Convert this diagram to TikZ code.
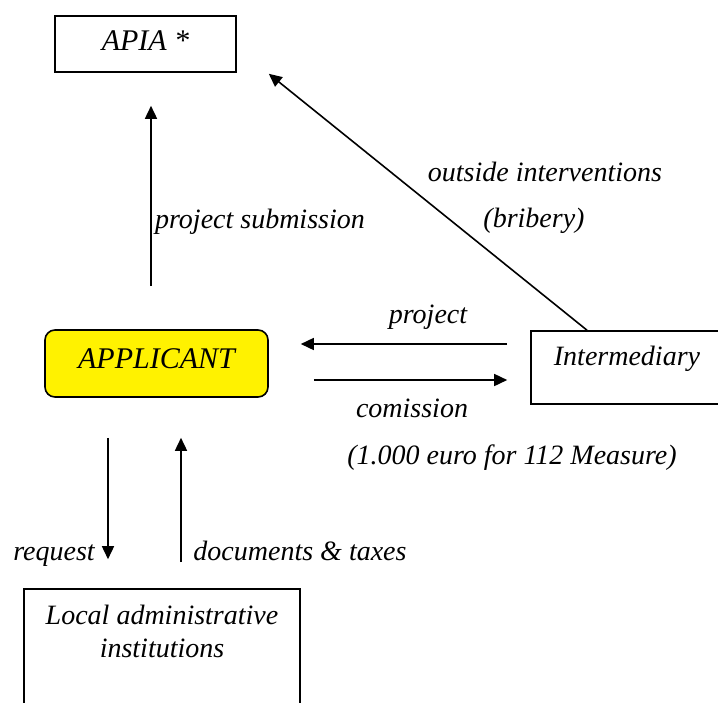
\documentclass[tikz,border=0pt]{standalone}
\usepackage{fontspec}
\setmainfont{Liberation Serif}
\usetikzlibrary{arrows.meta}
\tikzset{
  box/.style    = {draw,line width=0.8pt,inner sep=0pt,
                   font=\fontsize{15}{18}\selectfont\itshape},
  appbox/.style = {box,fill=yellow,rounded corners=5pt},
  lbl/.style    = {anchor=base,inner sep=0pt,
                   font=\fontsize{14}{16.5}\selectfont\itshape},
  arr/.style    = {-{Triangle[length=6.5pt,width=6pt]},line width=0.8pt},
}

\begin{document}
\begin{tikzpicture}[x=0.5pt,y=-0.5pt]
  \clip (0,0) rectangle (718,702);
  % boxes
  \node[box,anchor=base,minimum width=90.5pt,text height=17pt,
        text depth=11pt] (apia) at (145.5,50) {APIA *};
  \node[appbox,anchor=base,minimum width=111.5pt,text height=19pt,
        text depth=14.5pt] (app) at (156.5,368) {APPLICANT};
  \node[box,font=\fontsize{14}{16.5}\selectfont\itshape,anchor=base,
        minimum width=96pt,text height=17pt,text depth=19.5pt]
        (inter) at (627,365) {Intermediary};
  \node[box,font=\fontsize{14}{16.5}\selectfont\itshape,align=center,
        anchor=base,minimum width=138pt,text height=34pt,text depth=40pt]
        (loc) at (162,657) {Local administrative\\institutions};
  % arrows
  \draw[arr] ([xshift=-2.75pt,yshift=21.5pt]app.north)
          -- ([xshift=2.75pt,yshift=-16.5pt]apia.south);
  \draw[arr] ([xshift=-20pt]inter.north)
          -- ([xshift=16pt,yshift=-0.5pt]apia.south east);
  \draw[arr] ([xshift=-11.5pt,yshift=11.75pt]inter.west)
          -- ([xshift=16pt,yshift=9.75pt]app.east);
  \draw[arr] ([xshift=22.5pt,yshift=-8.25pt]app.east)
          -- ([xshift=-11.5pt,yshift=-6.25pt]inter.west);
  \draw[arr] ([xshift=-24.25pt,yshift=-20pt]app.south)
          -- ([xshift=-27pt,yshift=14.5pt]loc.north);
  \draw[arr] ([xshift=9.5pt,yshift=13pt]loc.north)
          -- ([xshift=12.25pt,yshift=-20pt]app.south);
  % labels
  \node[lbl] (sub) at (260,228) {project submission};
  \node[lbl] (outs) at (545,181) {outside interventions};
  \node[lbl] (brib) at (534,227) {(bribery)};
  \node[lbl] (proj) at (428,323) {project};
  \node[lbl] (comm) at (412,417) {comission};
  \node[lbl] (euro) at (512,464) {(1.000 euro for 112 Measure)};
  \node[lbl] (req) at (54,560) {request};
  \node[lbl] (docs) at (300,560) {documents \& taxes};
\end{tikzpicture}
\end{document}
